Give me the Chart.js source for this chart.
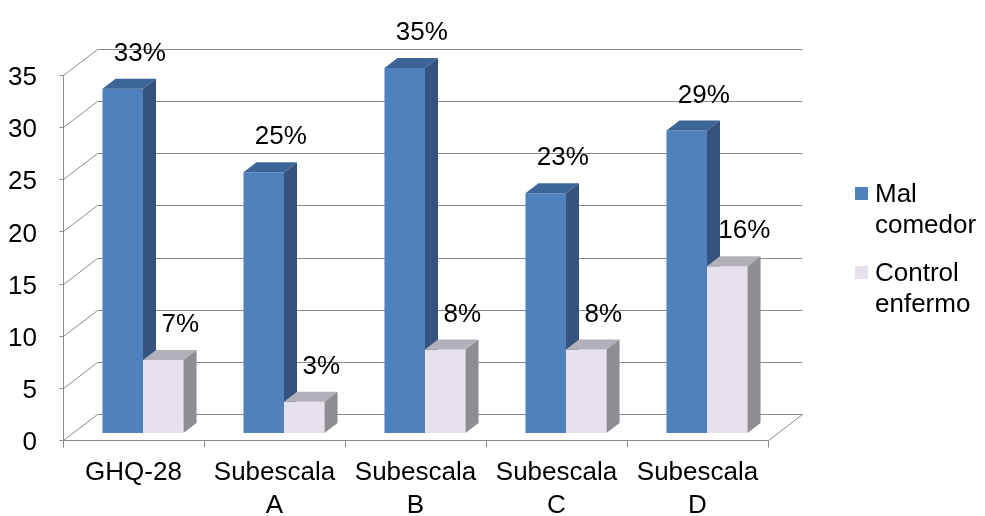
<!DOCTYPE html>
<html>
<head>
<meta charset="utf-8">
<script src="https://cdn.jsdelivr.net/npm/chart.js@4/dist/chart.umd.min.js"></script>
<style>
  body { margin: 0; background: #fff; }
</style>
</head>
<body>
<canvas id="barChart" width="985" height="516"></canvas>
<script>
// data
var categories = ['GHQ-28', ['Subescala', 'A'], ['Subescala', 'B'], ['Subescala', 'C'], ['Subescala', 'D']];
var malComedor = [33, 25, 35, 23, 29];
var controlEnfermo = [7, 3, 8, 8, 16];
var seriesNames = [['Mal', 'comedor'], ['Control', 'enfermo']];

var FONT = '"Liberation Sans", Arial, sans-serif';
var GRID = '#8a8a8a';

// faces of each 3d bar: front, top, side
var faces = [
  { front: '#4f81bd', top: '#3c6597', side: '#34537f' },
  { front: '#e6e1ec', top: '#b4b0b9', side: '#8f8c94' }
];

// back wall sits this far behind the front plane
var wall = { dx: 34, dy: -26 };
// bars stand a bit behind the front plane and have their own depth
var barShift = { dx: 9.5, dy: -7 };
var barDepth = { dx: 13, dy: -10 };

function line(ctx, x1, y1, x2, y2) {
  ctx.beginPath();
  ctx.moveTo(x1, y1);
  ctx.lineTo(x2, y2);
  ctx.stroke();
}

function poly(ctx, pts, color) {
  ctx.beginPath();
  ctx.moveTo(pts[0][0], pts[0][1]);
  for (var i = 1; i < pts.length; i++) ctx.lineTo(pts[i][0], pts[i][1]);
  ctx.closePath();
  ctx.fillStyle = color;
  ctx.fill();
}

var threeD = {
  id: 'threeD',
  beforeDatasetsDraw: function (chart) {
    var ctx = chart.ctx;
    var area = chart.chartArea;
    var x = chart.scales.x, y = chart.scales.y;
    var L = Math.round(area.left) + 0.5, R = Math.round(area.right) + 0.5, B = Math.round(area.bottom) + 0.5;

    ctx.save();
    ctx.strokeStyle = GRID;
    ctx.lineWidth = 1;

    // side wall, back wall grid and y stubs
    y.ticks.forEach(function (t) {
      var py = Math.round(y.getPixelForValue(t.value)) + 0.5;
      line(ctx, L - 4, py, L, py);
      line(ctx, L, py, L + wall.dx, py + wall.dy);
      line(ctx, L + wall.dx, py + wall.dy, R + wall.dx, py + wall.dy);
    });
    // front axis, floor edges
    line(ctx, L, Math.round(y.getPixelForValue(y.max)) + 0.5, L, B);
    line(ctx, L, B, R, B);
    line(ctx, R, B, R + wall.dx, B + wall.dy);

    // category tick marks
    var n = categories.length;
    var step = (area.right - area.left) / n;
    for (var i = 0; i <= n; i++) {
      var px = Math.round(area.left + i * step) + 0.5;
      line(ctx, px, B, px, B + 7);
    }

    // bars
    ctx.font = '26px ' + FONT;
    ctx.textAlign = 'center';
    ctx.textBaseline = 'middle';
    var labels = [];
    for (var c = 0; c < n; c++) {
      chart.data.datasets.forEach(function (ds, d) {
        var el = chart.getDatasetMeta(d).data[c];
        var w = el.width;
        var left = el.x - w / 2 + barShift.dx, right = left + w;
        var top = el.y + barShift.dy, bottom = el.base + barShift.dy;
        var f = faces[d];
        poly(ctx, [[left, top], [right, top], [right, bottom], [left, bottom]], f.front);
        poly(ctx, [[left, top], [left + barDepth.dx, top + barDepth.dy],
                   [right + barDepth.dx, top + barDepth.dy], [right, top]], f.top);
        poly(ctx, [[right, top], [right + barDepth.dx, top + barDepth.dy],
                   [right + barDepth.dx, bottom + barDepth.dy], [right, bottom]], f.side);
        labels.push([ds.data[c] + '%', (left + right) / 2 + 17, top - 35]);
      });
    }
    ctx.fillStyle = '#000';
    labels.forEach(function (l) { ctx.fillText(l[0], l[1], l[2]); });

    // legend
    var lx = area.right + 87;
    var rows = [187, 266];
    ctx.textAlign = 'left';
    ctx.textBaseline = 'alphabetic';
    seriesNames.forEach(function (name, d) {
      ctx.fillStyle = faces[d].front;
      ctx.fillRect(lx, rows[d], 13, 13);
      ctx.fillStyle = '#000';
      ctx.fillText(name[0], lx + 20, rows[d] + 15);
      ctx.fillText(name[1], lx + 20, rows[d] + 46);
    });
    ctx.restore();
    return false;
  }
};

new Chart(document.getElementById('barChart'), {
  type: 'bar',
  data: {
    labels: categories,
    datasets: [
      { label: 'Mal comedor', data: malComedor, backgroundColor: faces[0].front },
      { label: 'Control enfermo', data: controlEnfermo, backgroundColor: faces[1].front }
    ]
  },
  options: {
    responsive: false,
    animation: false,
    events: [],
    layout: { padding: { top: 75, right: 217, left: 0, bottom: 0 } },
    datasets: { bar: { categoryPercentage: 0.575, barPercentage: 1 } },
    plugins: { legend: { display: false }, tooltip: { enabled: false } },
    scales: {
      x: {
        grid: { display: false },
        border: { display: false },
        ticks: { color: '#000', padding: 9, maxRotation: 0, autoSkip: false,
                 font: { family: FONT, size: 26, lineHeight: 1.25 } },
        afterFit: function (s) { s.height = 76; }
      },
      y: {
        min: 0, max: 35,
        grid: { display: false },
        border: { display: false },
        ticks: { stepSize: 5, color: '#000', padding: 18, labelOffset: 3,
                 font: { family: FONT, size: 26 } },
        afterFit: function (s) { s.width = 63; }
      }
    }
  },
  plugins: [threeD]
});
</script>
</body>
</html>
